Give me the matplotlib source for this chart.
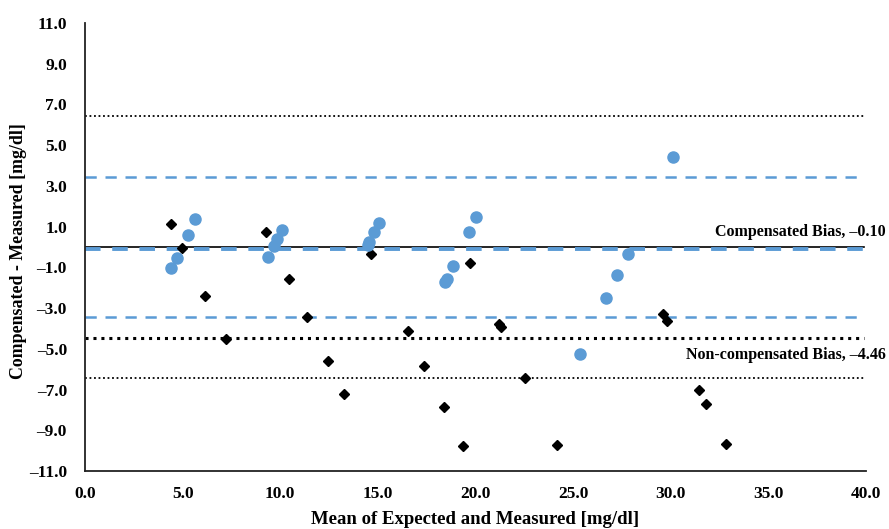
import matplotlib.pyplot as plt
from matplotlib.ticker import FuncFormatter

plt.rcParams['font.family'] = ['Liberation Serif', 'DejaVu Serif']
plt.rcParams['font.weight'] = 'bold'

# compensated points (blue circles)
comp_x = [4.42, 4.69, 5.26, 5.65, 9.39, 9.68, 9.83, 10.09, 14.50, 14.56, 14.78, 15.04,
          18.45, 18.52, 18.83, 19.65, 20.03, 25.33, 26.70, 27.25, 27.79, 30.13]
comp_y = [-1.05, -0.52, 0.60, 1.37, -0.49, 0.05, 0.38, 0.85, 0.10, 0.26, 0.74, 1.19,
          -1.70, -1.55, -0.95, 0.74, 1.49, -5.26, -2.50, -1.36, -0.34, 4.44]

# non-compensated points (black diamonds)
raw_x = [4.40, 4.97, 6.16, 7.24, 9.29, 10.47, 11.37, 12.45, 13.28, 14.67, 16.53, 17.38,
         18.39, 19.34, 19.70, 21.20, 21.29, 22.52, 24.16, 29.62, 29.79, 31.46, 31.80, 32.83]
raw_y = [1.13, -0.03, -2.39, -4.53, 0.74, -1.59, -3.43, -5.61, -7.20, -0.36, -4.14, -5.85,
         -7.86, -9.77, -0.77, -3.78, -3.95, -6.42, -9.74, -3.29, -3.65, -7.01, -7.71, -9.68]

comp_bias = -0.10
comp_loa = [3.45, -3.45]
raw_bias = -4.46
raw_loa = [6.45, -6.45]

blue = '#5b9bd5'


def fmt(v, pos):
    s = '%.1f' % abs(v)
    return ('\u2013' + s) if v < 0 else s


fig = plt.figure(figsize=(8.89, 5.29), dpi=100)
ax = fig.add_axes([0.0956, 0.1096, 0.8785, 0.8469])

x_end = 39.9
for v in raw_loa:
    ax.plot([0, x_end], [v, v], color='black', lw=1.3, ls=(0, (1, 1.5)))
ax.plot([0, x_end], [raw_bias, raw_bias], color='black', lw=2.2, ls=(0, (1, 1.6)))
for v in comp_loa:
    ax.plot([0, x_end], [v, v], color=blue, lw=1.8, ls=(0, (4.5, 3.5)))
ax.plot([0, x_end], [0, 0], color='black', lw=1.2)
ax.plot([0, x_end], [comp_bias, comp_bias], color=blue, lw=2.8, ls=(0, (4, 3)))

ax.plot(raw_x, raw_y, 'D', color='black', ms=5.5, ls='none', zorder=4)
ax.plot(comp_x, comp_y, 'o', color=blue, ms=8, ls='none', zorder=5)

ax.text(41.0, 0.72, 'Compensated Bias, \u20130.10', ha='right', va='center',
        fontsize=11.5, fontweight='bold', clip_on=False)
ax.text(41.0, -5.32, 'Non-compensated Bias, \u20134.46', ha='right', va='center',
        fontsize=11.5, fontweight='bold', clip_on=False)

ax.set_xlim(0, 40)
ax.set_ylim(-11, 11)
ax.set_xticks(range(0, 41, 5))
ax.set_yticks(range(-11, 12, 2))
ax.xaxis.set_major_formatter(FuncFormatter(fmt))
ax.yaxis.set_major_formatter(FuncFormatter(fmt))
ax.tick_params(length=0, labelsize=12.5)
ax.tick_params(axis='y', pad=13)
ax.tick_params(axis='x', pad=11)
for s in ['top', 'right']:
    ax.spines[s].set_visible(False)
for s in ['left', 'bottom']:
    ax.spines[s].set_linewidth(1.3)
    ax.spines[s].set_color('#222222')

ax.set_xlabel('Mean of Expected and Measured [mg/dl]', fontsize=13.5, fontweight='bold', labelpad=6)
ax.set_ylabel('Compensated - Measured [mg/dl]', fontsize=12.9, fontweight='bold')
ax.yaxis.set_label_coords(-0.074, 0.49)

fig.savefig('out.png', dpi=100)
